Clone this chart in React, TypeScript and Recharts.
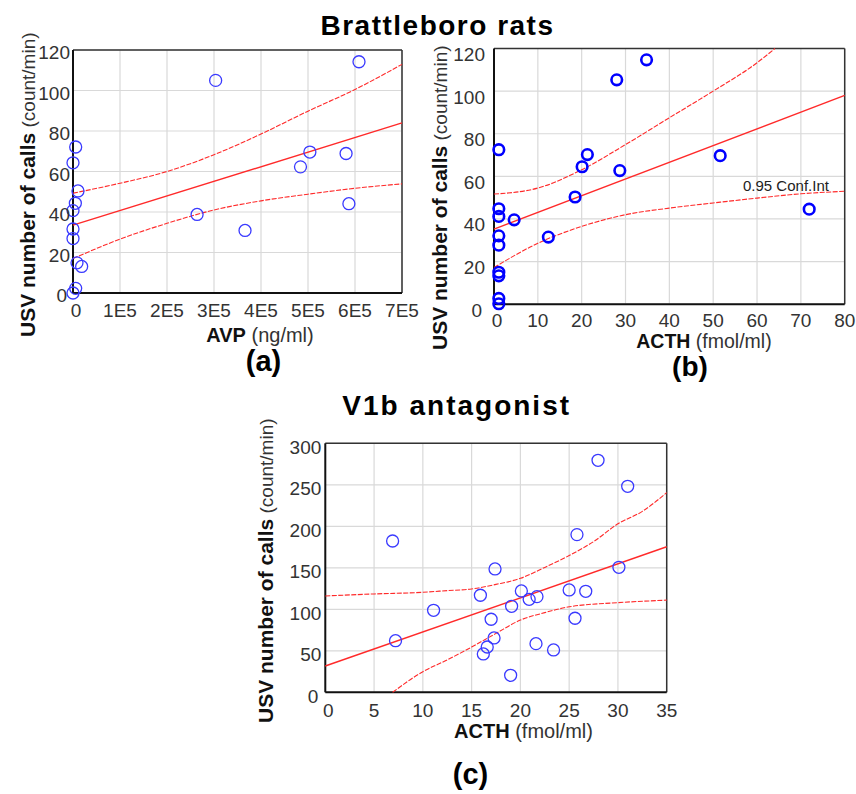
import React from 'react';
import { ScatterChart, Scatter, XAxis, YAxis, CartesianGrid, ReferenceLine } from 'recharts';

const FONT = '"Liberation Sans", Arial, Helvetica, sans-serif';
const RED = '#ff2a2a';
const GRID = '#d9d9d9';

// ---------- Panel (a): AVP vs USV (Brattleboro) ----------
const A_X_TICKS = [0, 100000, 200000, 300000, 400000, 500000, 600000, 700000];
const A_X_LABELS = ['0', '1E5', '2E5', '3E5', '4E5', '5E5', '6E5', '7E5'];
const A_Y_TICKS = [0, 20, 40, 60, 80, 100, 120];
const A_AVP = [303500, 608500, 5700, 0, 10600, 5000, 0, 0, 0, 8500, 18400, 5700, 0, 264000, 366000, 484000, 504000, 581000, 587000];
const A_USV = [105, 114.2, 72.1, 64.3, 50.4, 44.3, 40.7, 31.6, 26.9, 14.9, 13.1, 2.3, 0, 38.8, 30.9, 62.3, 69.6, 68.9, 44.1];
const A_FIT_X = [0, 700000];
const A_FIT_Y = [33.5, 84];
const A_CI_X = [0, 100000, 200000, 300000, 400000, 500000, 600000, 700000];
const A_CI_UP = [49.3, 54.2, 60.0, 68.3, 78.5, 89.8, 100.5, 112.9];
const A_CI_LO = [17.0, 26.6, 34.4, 41.0, 45.5, 48.8, 51.7, 53.9];

// ---------- Panel (b): ACTH vs USV (Brattleboro) ----------
const B_X_TICKS = [0, 10, 20, 30, 40, 50, 60, 70, 80];
const B_Y_TICKS = [0, 20, 40, 60, 80, 100, 120];
const B_ACTH = [34.8, 28.0, 1.1, 21.3, 20.1, 28.7, 51.6, 18.5, 71.9, 1.1, 1.1, 4.6, 12.4, 1.1, 1.1, 1.1, 1.1, 1.1, 1.1];
const B_USV = [114.7, 105.3, 72.5, 70.2, 64.5, 62.7, 69.7, 50.3, 44.6, 44.8, 41.2, 39.6, 31.5, 32.1, 27.7, 15, 13.3, 2.7, 0.2];
const B_FIT_X = [0, 80];
const B_FIT_Y = [35.2, 98];
const B_CI_UP_X = [0, 10, 20, 30, 40, 50, 60, 64.1];
const B_CI_UP = [51.7, 54.5, 63.1, 74.9, 87.5, 100, 113.3, 120];
const B_CI_LO_X = [0, 10, 20, 30, 40, 50, 60, 70, 80];
const B_CI_LO = [17.2, 28.6, 36.5, 42, 45.1, 47.5, 49.8, 51.8, 53];

// ---------- Panel (c): ACTH vs USV (V1b antagonist) ----------
const C_X_TICKS = [0, 5, 10, 15, 20, 25, 30, 35];
const C_Y_TICKS = [0, 50, 100, 150, 200, 250, 300];
const C_ACTH = [27.96, 31.0, 6.9, 25.8, 17.4, 30.1, 15.9, 20.1, 20.9, 21.7, 25.0, 26.7, 11.1, 19.1, 17.0, 25.6, 7.2, 17.3, 16.6, 16.2, 21.6, 23.4, 19.0];
const C_USV = [279.5, 248.2, 182.3, 190, 148.6, 150.6, 116.9, 122.1, 112, 115.3, 123.3, 121.7, 98.8, 103.6, 88, 89.2, 62.2, 65.5, 54.6, 46.2, 58.6, 51, 20.5];
const C_FIT_X = [0, 35];
const C_FIT_Y = [31.7, 175.4];
const C_CI_UP_X = [0, 5, 10, 12.5, 15, 17.5, 20, 22.5, 25, 27.5, 30, 32.5, 35];
const C_CI_UP = [116.1, 118.5, 120.5, 122.5, 124.5, 130, 137.3, 150.5, 164.7, 181.5, 203, 218, 240.5];
const C_CI_LO_X = [6.9, 10, 12.5, 15, 17.5, 20, 22.5, 25, 30, 35];
const C_CI_LO = [0, 24.8, 39, 54.5, 71, 87, 96, 103, 108, 111];

const zip = (xs: number[], ys: number[]) => xs.map((x, i) => ({ x, y: ys[i] }));

const EmptyShape = () => <g />;

const makeCircle = (r: number, color: string, sw: number) => (props: any) => {
  const { cx, cy } = props;
  if (cx == null || cy == null) return <g />;
  return <circle cx={cx} cy={cy} r={r} fill="none" stroke={color} strokeWidth={sw} />;
};

const makeYTick = (gap: number, dy: number) => (props: any) => {
  const { x, y, payload } = props;
  const extra = payload.value === 0 ? 3 : 0;
  return (
    <text x={x - gap - extra} y={y + dy} textAnchor="end" dominantBaseline="central" fontSize={19} fill="#333" fontFamily={FONT}>
      {payload.value}
    </text>
  );
};

const makeXTick = (ticks: number[], labels: string[] | null, dy: number) => (props: any) => {
  const { x, y, payload } = props;
  const idx = ticks.indexOf(payload.value);
  const label = labels && idx >= 0 ? labels[idx] : String(payload.value);
  const extra = payload.value === 0 ? 3 : 0;
  return (
    <text x={x + extra} y={y + dy} textAnchor="middle" dominantBaseline="central" fontSize={19} fill="#333" fontFamily={FONT}>
      {label}
    </text>
  );
};

const fitLine = { stroke: RED, strokeWidth: 1.4 };
const ciLine = { stroke: RED, strokeWidth: 1.1, strokeDasharray: '5 1.5' };

const Y_W = 40;
const X_H = 30;

type PanelProps = {
  left: number; top: number; width: number; height: number;
  plot: { top: number; right: number; bottom: number; left: number };
  xDomain: [number, number]; yDomain: [number, number];
  xTicks: number[]; yTicks: number[]; xLabels: string[] | null;
  yGap: number; yDy: number; xDy: number;
  points: { x: number; y: number }[];
  fit: { x: number; y: number }[];
  ciUp: { x: number; y: number }[];
  ciLo: { x: number; y: number }[];
  circle: (p: any) => any;
};

function Panel(p: PanelProps) {
  const margin = { top: p.plot.top, right: p.plot.right, bottom: p.plot.bottom - X_H, left: p.plot.left - Y_W };
  return (
    <div style={{ position: 'absolute', left: p.left, top: p.top }}>
      <ScatterChart width={p.width} height={p.height} margin={margin}>
        <CartesianGrid stroke={GRID} strokeWidth={1.2} />
        <XAxis
          type="number" dataKey="x" domain={p.xDomain} ticks={p.xTicks} interval={0}
          height={X_H} tickSize={0} tickMargin={0} tickLine={false}
          axisLine={{ stroke: '#111', strokeWidth: 2 }} tick={makeXTick(p.xTicks, p.xLabels, p.xDy)}
        />
        <YAxis
          type="number" dataKey="y" domain={p.yDomain} ticks={p.yTicks} interval={0}
          width={Y_W} tickSize={0} tickMargin={0} tickLine={false}
          axisLine={{ stroke: '#111', strokeWidth: 2 }} tick={makeYTick(p.yGap, p.yDy)}
        />
        <ReferenceLine y={p.yDomain[1]} stroke="#333" strokeWidth={1.5} />
        <ReferenceLine x={p.xDomain[1]} stroke="#333" strokeWidth={1.5} />
        <Scatter data={p.ciUp} fill={RED} line={ciLine} lineJointType="monotoneX" shape={EmptyShape} isAnimationActive={false} legendType="none" />
        <Scatter data={p.ciLo} fill={RED} line={ciLine} lineJointType="monotoneX" shape={EmptyShape} isAnimationActive={false} legendType="none" />
        <Scatter data={p.fit} fill={RED} line={fitLine} shape={EmptyShape} isAnimationActive={false} legendType="none" />
        <Scatter data={p.points} fill="none" shape={p.circle} isAnimationActive={false} legendType="none" />
      </ScatterChart>
    </div>
  );
}

function RotLabel({ x, y }: { x: number; y: number }) {
  return (
    <text x={x} y={y} transform={`rotate(-90 ${x} ${y})`} textAnchor="start" fontFamily={FONT} fill="#111">
      <tspan fontWeight="bold" fontSize={21}>USV number of calls</tspan>
      <tspan fontSize={19} fill="#333"> (count/min)</tspan>
    </text>
  );
}

export default function App() {
  return (
    <div style={{ position: 'absolute', left: 0, top: 0, width: 856, height: 794, background: '#fff', overflow: 'hidden' }}>
      <Panel
        left={0} top={0} width={420} height={380}
        plot={{ top: 50, right: 18, bottom: 87, left: 73 }}
        xDomain={[0, 700000]} yDomain={[0, 120]}
        xTicks={A_X_TICKS} yTicks={A_Y_TICKS} xLabels={A_X_LABELS}
        yGap={3} yDy={2.5} xDy={17}
        points={zip(A_AVP, A_USV)} fit={zip(A_FIT_X, A_FIT_Y)}
        ciUp={zip(A_CI_X, A_CI_UP)} ciLo={zip(A_CI_X, A_CI_LO)}
        circle={makeCircle(6, '#3a3aff', 1.3)}
      />
      <Panel
        left={420} top={0} width={436} height={380}
        plot={{ top: 48.5, right: 11.3, bottom: 75.8, left: 74 }}
        xDomain={[0, 80]} yDomain={[0, 120]}
        xTicks={B_X_TICKS} yTicks={B_Y_TICKS} xLabels={null}
        yGap={9} yDy={6} xDy={16}
        points={zip(B_ACTH, B_USV)} fit={zip(B_FIT_X, B_FIT_Y)}
        ciUp={zip(B_CI_UP_X, B_CI_UP)} ciLo={zip(B_CI_LO_X, B_CI_LO)}
        circle={makeCircle(5.3, '#0000ff', 2.6)}
      />
      <Panel
        left={240} top={390} width={440} height={404}
        plot={{ top: 53.3, right: 13.3, bottom: 101.7, left: 85.3 }}
        xDomain={[0, 35]} yDomain={[0, 300]}
        xTicks={C_X_TICKS} yTicks={C_Y_TICKS} xLabels={null}
        yGap={4} yDy={4} xDy={18}
        points={zip(C_ACTH, C_USV)} fit={zip(C_FIT_X, C_FIT_Y)}
        ciUp={zip(C_CI_UP_X, C_CI_UP)} ciLo={zip(C_CI_LO_X, C_CI_LO)}
        circle={makeCircle(6, '#3a3aff', 1.3)}
      />
      <svg width={856} height={794} style={{ position: 'absolute', left: 0, top: 0, pointerEvents: 'none' }}>
        <text x={437.5} y={35} textAnchor="middle" fontFamily={FONT} fontWeight="bold" fontSize={28} letterSpacing={1.5} fill="#000">Brattleboro rats</text>
        <text x={456.7} y={415} textAnchor="middle" fontFamily={FONT} fontWeight="bold" fontSize={28} letterSpacing={2} fill="#000">V1b antagonist</text>

        <RotLabel x={35} y={337} />
        <RotLabel x={447} y={350} />
        <RotLabel x={273} y={723} />

        <text x={260} y={342} textAnchor="middle" fontFamily={FONT} fill="#111">
          <tspan fontWeight="bold" fontSize={20}>AVP</tspan>
          <tspan fontSize={20} fill="#333"> (ng/ml)</tspan>
        </text>
        <text x={704} y={348} textAnchor="middle" fontFamily={FONT} fill="#111">
          <tspan fontWeight="bold" fontSize={19.5}>ACTH</tspan>
          <tspan fontSize={19.5} fill="#333"> (fmol/ml)</tspan>
        </text>
        <text x={523.5} y={738} textAnchor="middle" fontFamily={FONT} fill="#111">
          <tspan fontWeight="bold" fontSize={20}>ACTH</tspan>
          <tspan fontSize={20} fill="#333"> (fmol/ml)</tspan>
        </text>

        <text x={263.5} y={371} textAnchor="middle" fontFamily={FONT} fontWeight="bold" fontSize={29} fill="#000">(a)</text>
        <text x={690} y={376} textAnchor="middle" fontFamily={FONT} fontWeight="bold" fontSize={28} fill="#000">(b)</text>
        <text x={470.5} y={784} textAnchor="middle" fontFamily={FONT} fontWeight="bold" fontSize={29} fill="#000">(c)</text>

        <text x={743} y={191} textAnchor="start" fontFamily={FONT} fontSize={15} fill="#222">0.95 Conf.Int</text>
      </svg>
    </div>
  );
}
